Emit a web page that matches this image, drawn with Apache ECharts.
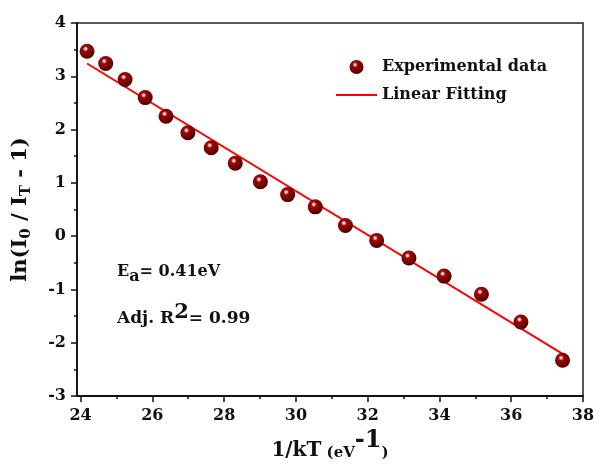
<!DOCTYPE html>
<html><head><meta charset="utf-8">
<script src="https://cdn.jsdelivr.net/npm/echarts@6/dist/echarts.min.js"></script>
<style>html,body{margin:0;padding:0;background:#fff}#c{width:599px;height:472px}</style>
</head><body><div id="c"></div>
<script>
const expX = [24.18,24.70,25.24,25.80,26.38,26.99,27.64,28.31,29.01,29.77,30.54,31.38,32.25,33.15,34.13,35.17,36.27,37.43];
const expY = [3.47,3.24,2.94,2.60,2.25,1.94,1.66,1.37,1.02,0.78,0.55,0.20,-0.08,-0.41,-0.75,-1.09,-1.61,-2.33];
const fitX = [24.18, 37.43];
const fitY = [3.24, -2.21];
const xTicks = [24,26,28,30,32,34,36,38];
const xMinorTicks = [25,27,29,31,33,35,37];
const seriesNames = ['Experimental data','Linear Fitting'];
const FONT = 'DejaVu Serif';

const chart = echarts.init(document.getElementById('c'), null, {renderer:'canvas'});
const sphere = {
  type:'radial', x:0.4, y:0.34, r:0.68,
  colorStops:[
    {offset:0, color:'#ffffff'},
    {offset:0.1, color:'#ecc0c0'},
    {offset:0.26, color:'#9a0a0a'},
    {offset:0.72, color:'#740000'},
    {offset:1, color:'#3c0000'}
  ]
};
const axisLbl = {fontFamily:FONT, fontWeight:'bold', fontSize:16, color:'#111'};
chart.setOption({
  backgroundColor:'#ffffff',
  animation:false,
  grid:{left:77, right:16, top:23, bottom:76, show:true, borderColor:'#222', borderWidth:1.5, backgroundColor:'transparent'},
  legend:{
    orient:'vertical', left:336, top:59, padding:0,
    itemWidth:41, itemHeight:14, itemGap:12,
    textStyle:{fontFamily:FONT, fontWeight:'bold', fontSize:16, color:'#111'},
    data:[{name:seriesNames[0], icon:'circle'},{name:seriesNames[1], icon:'path://M0,0 L82,0 L82,4 L0,4 Z'}]
  },
  xAxis:[{
    type:'value', min:23.9, max:38,
    axisLine:{show:true, onZero:false, lineStyle:{color:'#111', width:1.8}},
    axisTick:{show:true, customValues:xTicks, length:6, lineStyle:{color:'#111', width:1.5}},
    axisLabel:Object.assign({customValues:xTicks, margin:12}, axisLbl),
    splitLine:{show:false},
    name:'{a|1/kT}{b| (eV}{c|-1}{b|)}',
    nameLocation:'middle', nameGap:27,
    nameTextStyle:{fontFamily:FONT, fontWeight:'bold', color:'#111',
      rich:{
        a:{fontFamily:FONT, fontWeight:'bold', fontSize:20, color:'#111', verticalAlign:'bottom', lineHeight:22},
        b:{fontFamily:FONT, fontWeight:'bold', fontSize:15, color:'#111', verticalAlign:'bottom', lineHeight:21},
        c:{fontFamily:FONT, fontWeight:'bold', fontSize:24, color:'#111', verticalAlign:'bottom', lineHeight:24, padding:[0,0,8,0]}
      }}
  },{
    type:'value', min:23.9, max:38, position:'bottom',
    axisLine:{show:false, onZero:false},
    axisTick:{show:true, customValues:xMinorTicks, length:3, lineStyle:{color:'#111', width:1.5}},
    axisLabel:{show:false},
    splitLine:{show:false}
  }],
  yAxis:{
    type:'value', min:-3, max:4, interval:1,
    axisLine:{show:true, onZero:false, lineStyle:{color:'#111', width:1.8}},
    axisTick:{show:true, length:6, lineStyle:{color:'#111', width:1.5}},
    minorTick:{show:true, splitNumber:2, length:3, lineStyle:{color:'#111', width:1.5}},
    axisLabel:Object.assign({margin:11}, axisLbl),
    splitLine:{show:false},
    name:'{a|ln(I}{s|0}{a| / I}{s|T}{a| - 1)}',
    nameLocation:'middle', nameGap:44, nameRotate:90,
    nameTextStyle:{fontFamily:FONT, fontWeight:'bold', color:'#111',
      rich:{
        a:{fontFamily:FONT, fontWeight:'bold', fontSize:21, color:'#111', verticalAlign:'top', lineHeight:23},
        s:{fontFamily:FONT, fontWeight:'bold', fontSize:15, color:'#111', verticalAlign:'top', lineHeight:17, padding:[9,0,0,0]}
      }}
  },
  graphic:[
    {type:'text', left:117, top:264, z:10,
      style:{text:'{a|E}{s|a}{a|= 0.41eV}', rich:{
        a:{fontFamily:FONT, fontWeight:'bold', fontSize:16, fill:'#111', verticalAlign:'top', lineHeight:18},
        s:{fontFamily:FONT, fontWeight:'bold', fontSize:16, fill:'#111', verticalAlign:'top', lineHeight:18, padding:[5,0,0,0]}
      }}},
    {type:'text', left:117, top:302, z:10,
      style:{text:'{a|Adj. R}{p|2}{a|= 0.99}', rich:{
        a:{fontFamily:FONT, fontWeight:'bold', fontSize:17, fill:'#111', verticalAlign:'bottom', lineHeight:20},
        p:{fontFamily:FONT, fontWeight:'bold', fontSize:21, fill:'#111', verticalAlign:'bottom', lineHeight:22, padding:[0,0,4,0]}
      }}}
  ],
  series:[
    {name:seriesNames[1], type:'line', data:fitX.map((x,i)=>[x, fitY[i]]),
      showSymbol:false, symbol:'none', lineStyle:{color:'#ff0000', width:2}, itemStyle:{color:'#ff0000'}, z:2},
    {name:seriesNames[0], type:'scatter', data:expX.map((x,i)=>[x, expY[i]]),
      symbolSize:15, itemStyle:{color:sphere, opacity:1}, z:3}
  ]
});
</script></body></html>
